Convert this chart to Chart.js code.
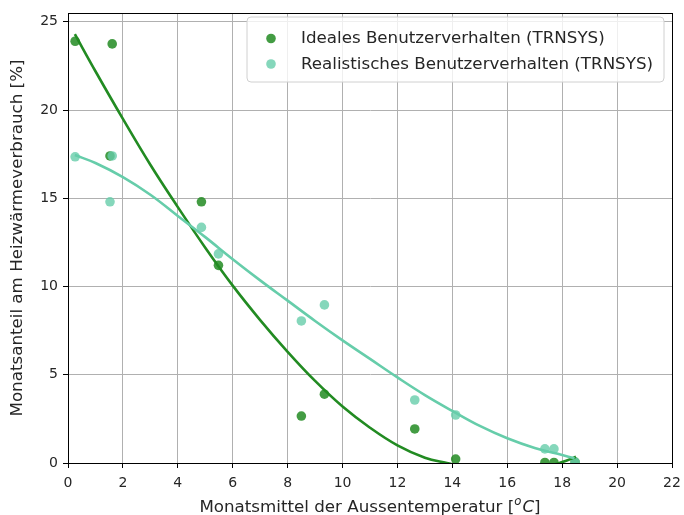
<!DOCTYPE html>
<html lang="de">
<head>
<meta charset="UTF-8">
<title>Monatsanteil am Heizwärmeverbrauch</title>
<script src="https://cdn.jsdelivr.net/npm/chart.js@4"></script>
<style>
    html, body { margin: 0; padding: 0; background: #fff; }
    #wrap { width: 684px; height: 515px; }
</style>
</head>
<body>
<div id="wrap"><canvas id="chart" width="684" height="515"></canvas></div>
<script>
// Monatsmittel der Aussentemperatur [°C]
const temps = [0.26, 1.61, 1.53, 4.86, 5.48, 8.5, 9.34, 12.63, 14.12, 17.37, 17.7, 18.47];
// Monatsanteil [%] - ideales Benutzerverhalten
const idealValues = [23.9, 23.75, 17.4, 14.8, 11.2, 2.66, 3.9, 1.93, 0.22, 0.03, 0.03, 0.05];
// Monatsanteil [%] - realistisches Benutzerverhalten
const realValues = [17.35, 17.4, 14.8, 13.35, 11.85, 8.05, 8.96, 3.57, 2.72, 0.8, 0.8, 0.05];

// Ausgleichskurven
const fitX = [0.25, 1, 2, 3, 4, 5, 6, 7, 8, 9, 10, 11, 12, 13, 13.8, 15, 16, 17, 18, 18.5];
const idealFit = [24.3, 22.2, 19.5, 16.9, 14.5, 12.2, 10.05, 8.1, 6.3, 4.65, 3.2, 2.0, 1.0, 0.3, 0, -0.4, -0.5, -0.35, 0.05, 0.35];
const realFitX = [0.25, 1, 2, 3, 4, 5, 6, 7, 8, 9, 10, 11, 12, 13, 14, 15, 16, 17, 18, 18.45];
const realFit = [17.45, 17.0, 16.2, 15.2, 14.0, 12.8, 11.55, 10.35, 9.2, 8.05, 6.95, 5.9, 4.85, 3.85, 2.95, 2.1, 1.4, 0.85, 0.45, 0.27];

const xTicks = [0, 2, 4, 6, 8, 10, 12, 14, 16, 18, 20, 22];
const yTicks = [0, 5, 10, 15, 20, 25];

const labels = ['Ideales Benutzerverhalten (TRNSYS)', 'Realistisches Benutzerverhalten (TRNSYS)'];

const darkColor = '#228B22';
const lightColor = '#66CDAA';
const darkPoint = 'rgba(34,139,34,0.85)';
const lightPoint = 'rgba(102,205,170,0.8)';
const FONT = "'DejaVu Sans', sans-serif";

const toXY = (xs, ys) => xs.map((x, i) => ({ x: x, y: ys[i] }));

// Legende im Diagramm, Achsenrahmen und x-Achsentitel
const boxPlugin = {
    id: 'boxPlugin',
    afterDraw(chart) {
        const ctx = chart.ctx;
        const a = chart.chartArea;
        ctx.save();
        // Rahmen
        ctx.strokeStyle = '#000';
        ctx.lineWidth = 1;
        ctx.strokeRect(a.left + 0.5, a.top + 0.5, a.right - a.left, a.bottom - a.top);

        // Legende
        const lx = 247, ly = 17, lw = 417, lh = 65, r = 4;
        ctx.beginPath();
        ctx.moveTo(lx + r, ly);
        ctx.arcTo(lx + lw, ly, lx + lw, ly + lh, r);
        ctx.arcTo(lx + lw, ly + lh, lx, ly + lh, r);
        ctx.arcTo(lx, ly + lh, lx, ly, r);
        ctx.arcTo(lx, ly, lx + lw, ly, r);
        ctx.closePath();
        ctx.fillStyle = 'rgba(255,255,255,0.8)';
        ctx.fill();
        ctx.strokeStyle = '#d0d0d0';
        ctx.stroke();
        const cols = [darkPoint, lightPoint];
        ctx.font = '16.7px ' + FONT;
        ctx.textBaseline = 'middle';
        labels.forEach((t, i) => {
            const yy = 38.5 + i * 25.5;
            ctx.beginPath();
            ctx.arc(271, yy, 4.8, 0, Math.PI * 2);
            ctx.fillStyle = cols[i];
            ctx.fill();
            ctx.fillStyle = '#262626';
            ctx.fillText(t, 301, yy + 0.5);
        });

        // x-Achsentitel mit [°C]
        ctx.fillStyle = '#262626';
        ctx.textBaseline = 'alphabetic';
        const p1 = 'Monatsmittel der Aussentemperatur [';
        const fN = '16.7px ' + FONT, fI = 'italic 16.7px ' + FONT, fS = 'italic 11.7px ' + FONT;
        ctx.font = fN; const w1 = ctx.measureText(p1).width; const w4 = ctx.measureText(']').width;
        ctx.font = fS; const w2 = ctx.measureText('o').width + 1;
        ctx.font = fI; const w3 = ctx.measureText('C').width;
        let x = (a.left + a.right) / 2 - (w1 + w2 + w3 + w4) / 2;
        const by = 512;
        ctx.font = fN; ctx.fillText(p1, x, by); x += w1;
        ctx.font = fS; ctx.fillText('o', x, by - 7); x += w2;
        ctx.font = fI; ctx.fillText('C', x, by); x += w3;
        ctx.font = fN; ctx.fillText(']', x, by);
        ctx.restore();
    }
};

const ctx = document.getElementById('chart').getContext('2d');
new Chart(ctx, {
    type: 'scatter',
    data: {
        datasets: [
            {
                label: labels[0], data: toXY(temps, idealValues),
                backgroundColor: darkPoint, borderWidth: 0, pointRadius: 4.8, pointHoverRadius: 4.8,
                clip: 0, order: 4
            },
            {
                label: labels[1], data: toXY(temps, realValues),
                backgroundColor: lightPoint, borderWidth: 0, pointRadius: 4.8, pointHoverRadius: 4.8,
                clip: 0, order: 3
            },
            {
                label: 'fit ideal', data: toXY(fitX, idealFit), showLine: true,
                borderColor: darkColor, borderWidth: 2.6, pointRadius: 0,
                tension: 0.4, clip: 0, order: 2
            },
            {
                label: 'fit real', data: toXY(realFitX, realFit), showLine: true,
                borderColor: lightColor, borderWidth: 2.6, pointRadius: 0,
                tension: 0.4, clip: 0, order: 1
            }
        ]
    },
    options: {
        responsive: false,
        animation: false,
        events: [],
        layout: { padding: { top: 13, right: 12, left: 0, bottom: 0 } },
        plugins: { legend: { display: false }, tooltip: { enabled: false } },
        scales: {
            x: {
                type: 'linear', min: 0, max: 22,
                afterBuildTicks: s => { s.ticks = xTicks.map(v => ({ value: v })); },
                afterFit: s => { s.height = 52; s.paddingLeft = 0; s.paddingRight = 0; },
                grid: { color: '#b0b0b0', lineWidth: 1, tickColor: '#000', tickLength: 5, drawTicks: true },
                border: { color: '#000', width: 1 },
                ticks: { color: '#262626', font: { family: FONT, size: 14 }, padding: 7, maxRotation: 0 },
                title: { display: false }
            },
            y: {
                type: 'linear', min: 0, max: 25.5,
                afterBuildTicks: s => { s.ticks = yTicks.map(v => ({ value: v })); },
                afterFit: s => { s.width = 68; s.paddingTop = 0; s.paddingBottom = 0; },
                grid: { color: '#b0b0b0', lineWidth: 1, tickColor: '#000', tickLength: 5, drawTicks: true },
                border: { color: '#000', width: 1 },
                ticks: { color: '#262626', font: { family: FONT, size: 14 }, padding: 5 },
                title: {
                    display: true, text: 'Monatsanteil am Heizwärmeverbrauch [%]',
                    color: '#262626', font: { family: FONT, size: 16.7 }, padding: { top: 8, bottom: 0 }
                }
            }
        }
    },
    plugins: [boxPlugin]
});
</script>
</body>
</html>
